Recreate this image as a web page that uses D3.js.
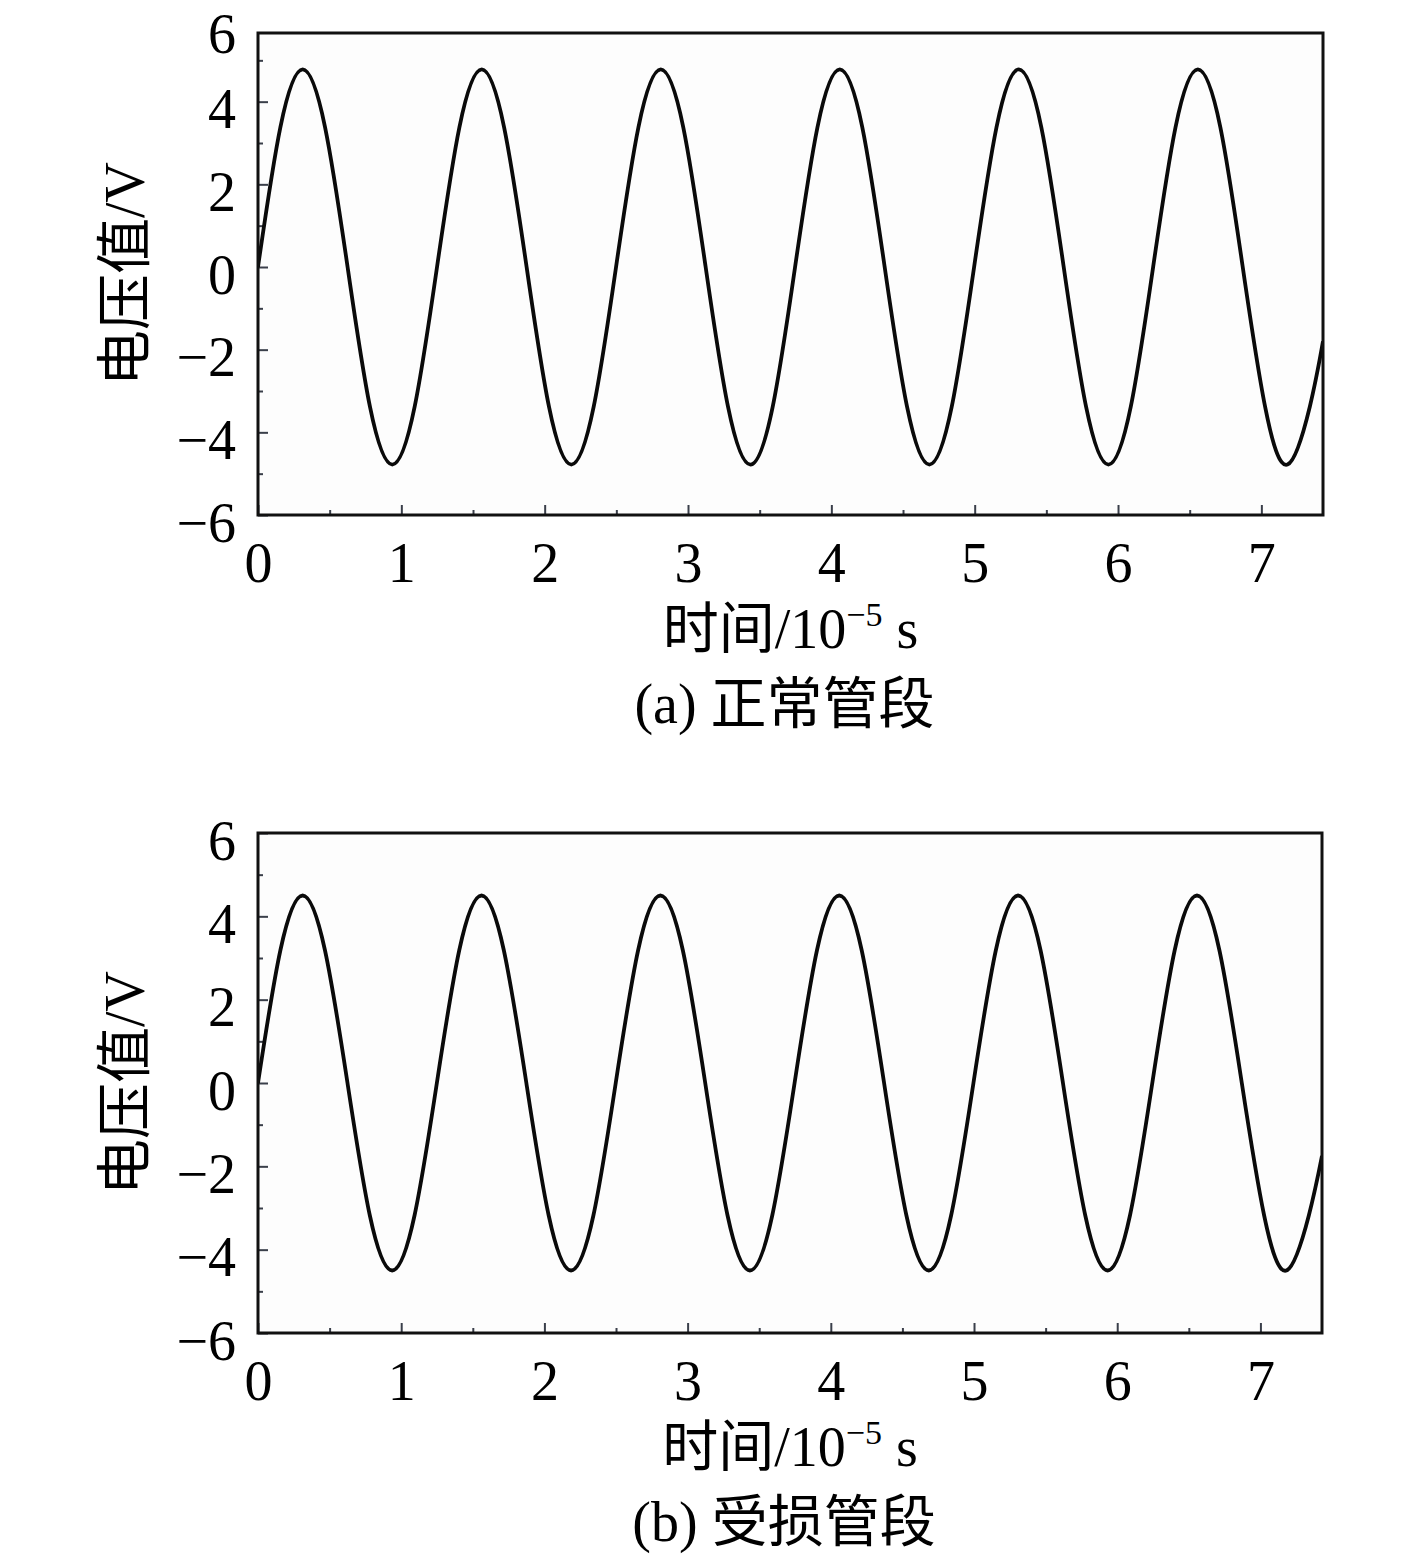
<!DOCTYPE html>
<html><head><meta charset="utf-8">
<script src="https://cdn.jsdelivr.net/npm/d3@7"></script>
<style>body{margin:0;background:#fff} svg{display:block}</style>
</head><body><svg id="c" width="1417" height="1567"></svg>
<script>
// ---- data ----
const time = [0, 0.156, 0.312, 0.468, 0.625, 0.781, 0.937, 1.093, 1.249, 1.405, 1.561, 1.717,
  1.874, 2.030, 2.186, 2.342, 2.498, 2.654, 2.810, 2.967, 3.123, 3.279, 3.435, 3.591,
  3.747, 3.903, 4.059, 4.216, 4.372, 4.528, 4.684, 4.840, 4.996, 5.152, 5.308, 5.465,
  5.621, 5.777, 5.933, 6.089, 6.245, 6.401, 6.557, 6.714, 6.870, 7.026, 7.182, 7.338, 7.43];
const voltNormal = [0, 3.38, 4.78, 3.38, 0, -3.38, -4.78, -3.38,
  0, 3.38, 4.78, 3.38, 0, -3.38, -4.78, -3.38,
  0, 3.38, 4.78, 3.38, 0, -3.38, -4.78, -3.38,
  0, 3.38, 4.78, 3.38, 0, -3.38, -4.78, -3.38,
  0, 3.38, 4.78, 3.38, 0, -3.38, -4.78, -3.38,
  0, 3.38, 4.78, 3.38, 0, -3.38, -4.78, -3.38, -1.8];
const voltDamaged = [0, 3.18, 4.5, 3.18, 0, -3.18, -4.5, -3.18,
  0, 3.18, 4.5, 3.18, 0, -3.18, -4.5, -3.18,
  0, 3.18, 4.5, 3.18, 0, -3.18, -4.5, -3.18,
  0, 3.18, 4.5, 3.18, 0, -3.18, -4.5, -3.18,
  0, 3.18, 4.5, 3.18, 0, -3.18, -4.5, -3.18,
  0, 3.18, 4.5, 3.18, 0, -3.18, -4.5, -3.18, -1.75];
const xTicks = [0, 1, 2, 3, 4, 5, 6, 7];
const xMinorTicks = [0.5, 1.5, 2.5, 3.5, 4.5, 5.5, 6.5];
const yTicks = [-6, -4, -2, 0, 2, 4, 6];
const yTickLabels = ["−6", "−4", "−2", "0", "2", "4", "6"];
const yMinorTicks = [-5, -3, -1, 1, 3, 5];
const xDomain = [0, 7.43];
const yDomain = [-6, 6];
const yTitle = "电压值/V";
const xTitleMain = "时间/10";
const xTitleSup = "−5";
const xTitleUnit = " s";
const captions = ["(a) 正常管段", "(b) 受损管段"];

// ---- layout ----
const panels = [
  {values: voltNormal, left: 258, right: 1323, yTop: 19, yBottom: 515, frameTop: 33, frameBottom: 515, caption: captions[0]},
  {values: voltDamaged, left: 258, right: 1322, yTop: 833, yBottom: 1333, frameTop: 833, frameBottom: 1333, caption: captions[1]}
];
const serif = "'Liberation Serif','Times New Roman','Noto Sans CJK SC',serif";
const svg = d3.select("#c");

panels.forEach((p, i) => {
  const x = d3.scaleLinear().domain(xDomain).range([p.left, p.right]);
  const y = d3.scaleLinear().domain(yDomain).range([p.yBottom, p.yTop]);
  const g = svg.append("g");

  g.append("rect").attr("x", p.left).attr("y", p.frameTop)
    .attr("width", p.right - p.left).attr("height", p.frameBottom - p.frameTop)
    .attr("fill", "#fdfdfd");

  // minor ticks
  const yMinor = g.append("g").attr("transform", `translate(${p.left},0)`)
    .call(d3.axisLeft(y).tickValues(yMinorTicks).tickSize(-5).tickFormat(""));
  const xMinor = g.append("g").attr("transform", `translate(0,${p.frameBottom})`)
    .call(d3.axisBottom(x).tickValues(xMinorTicks).tickSize(-5).tickFormat(""));
  [yMinor, xMinor].forEach(a => { a.select(".domain").remove(); a.selectAll("line").attr("stroke", "#3a3f4a").attr("stroke-width", 2); });

  // major axes
  const yAx = g.append("g").attr("transform", `translate(${p.left},0)`)
    .call(d3.axisLeft(y).tickValues(yTicks).tickSize(-10).tickPadding(22)
      .tickFormat((d, j) => yTickLabels[j]));
  const xAx = g.append("g").attr("transform", `translate(0,${p.frameBottom})`)
    .call(d3.axisBottom(x).tickValues(xTicks).tickSize(-10).tickPadding(27));
  [yAx, xAx].forEach(a => {
    a.select(".domain").remove();
    a.selectAll("line").attr("stroke", "#3a3f4a").attr("stroke-width", 2);
    a.selectAll("text").attr("font-family", serif).attr("font-size", 56).attr("fill", "#000");
  });
  yAx.selectAll("text").attr("dy", "0.47em");
  const outside = yAx.selectAll(".tick").filter(d => y(d) < p.frameTop - 1);
  outside.select("line").remove();
  outside.select("text").attr("dy", null).attr("y", 0).attr("transform", d => `translate(0,${52 - y(d)})`);

  // clip + line
  const cid = "clip" + i;
  svg.append("defs").append("clipPath").attr("id", cid).append("rect")
    .attr("x", p.left).attr("y", p.frameTop)
    .attr("width", p.right - p.left).attr("height", p.frameBottom - p.frameTop);
  const line = d3.line().x((d, j) => x(time[j])).y(d => y(d)).curve(d3.curveNatural);
  g.append("path").datum(p.values).attr("clip-path", `url(#${cid})`)
    .attr("d", line).attr("fill", "none").attr("stroke", "#0a0a0a")
    .attr("stroke-width", 3.8).attr("stroke-linejoin", "round");

  // frame
  g.append("rect").attr("x", p.left).attr("y", p.frameTop)
    .attr("width", p.right - p.left).attr("height", p.frameBottom - p.frameTop)
    .attr("fill", "none").attr("stroke", "#111").attr("stroke-width", 3);

  // y title
  const ymid = (p.frameTop + p.frameBottom) / 2;
  g.append("text").attr("transform", `translate(144,${ymid}) rotate(-90)`)
    .attr("text-anchor", "middle").attr("font-family", serif).attr("font-size", 56)
    .attr("fill", "#000").text(yTitle);

  // x title
  const cx = (p.left + p.right) / 2;
  const t = g.append("text").attr("x", cx).attr("y", p.frameBottom + 133)
    .attr("text-anchor", "middle").attr("font-family", serif).attr("font-size", 56).attr("fill", "#000");
  t.append("tspan").text(xTitleMain);
  t.append("tspan").attr("font-size", 34).attr("dy", -22).text(xTitleSup);
  t.append("tspan").attr("dy", 22).text(xTitleUnit);

  // caption
  g.append("text").attr("x", cx - 6).attr("y", p.frameBottom + 208)
    .attr("text-anchor", "middle").attr("font-family", serif).attr("font-size", 56)
    .attr("fill", "#000").text(p.caption);
});
</script>
</body></html>
